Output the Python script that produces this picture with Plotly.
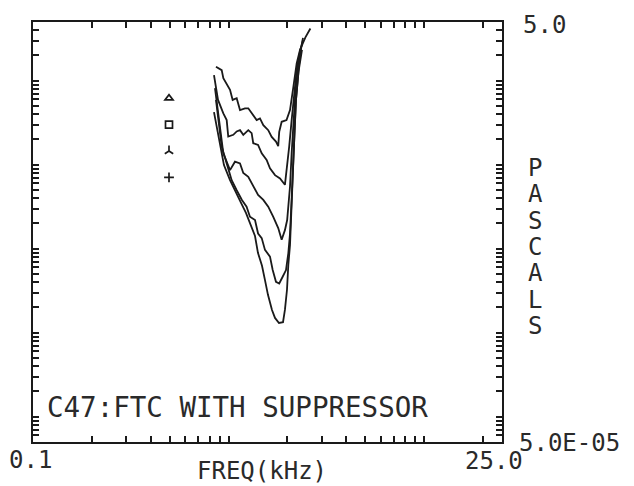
import numpy as np
import plotly.graph_objects as go

# Frequency tuning curves (kHz) with threshold levels in dB SPL (re 20 uPa)
freq_a = [0.862, 0.922, 0.940, 1.017, 1.049, 1.100, 1.144, 1.213, 1.261, 1.312, 1.392, 1.447,
          1.505, 1.595, 1.661, 1.747, 1.794, 1.815, 1.868, 1.978, 2.061, 2.145, 2.229, 2.317,
          2.470, 2.620]
db_a = [97.3, 96.5, 94.6, 91.8, 89.4, 89.8, 87.0, 87.4, 87.4, 86.2, 84.6, 85.0,
        83.4, 82.2, 80.6, 79.5, 78.4, 81.8, 84.2, 84.6, 87.0, 92.6, 98.1, 101.3,
        104.3, 106.4]

freq_b = [0.842, 0.883, 0.940, 0.978, 0.996, 1.057, 1.100, 1.144, 1.189, 1.261, 1.312, 1.337,
          1.415, 1.477, 1.565, 1.628, 1.727, 1.832, 1.941, 1.993, 2.041, 2.101, 2.160, 2.229,
          2.317, 2.400]
db_b = [95.3, 89.4, 86.2, 84.6, 80.7, 81.1, 81.9, 82.2, 81.1, 82.2, 81.5, 79.1,
        78.7, 76.7, 75.1, 73.1, 71.5, 70.7, 69.2, 73.5, 78.3, 84.6, 91.0, 96.5,
        100.9, 103.7]

freq_c = [0.852, 0.897, 0.922, 0.940, 1.017, 1.078, 1.144, 1.189, 1.261, 1.337, 1.415, 1.505,
          1.595, 1.690, 1.794, 1.868, 1.941, 1.993, 2.061, 2.101, 2.150, 2.200, 2.264, 2.345]
db_c = [92.2, 84.6, 80.7, 76.7, 72.7, 74.7, 74.3, 72.0, 71.1, 68.8, 66.8, 65.6,
        64.0, 61.6, 58.9, 56.1, 58.4, 60.8, 68.8, 76.7, 84.6, 91.8, 97.7, 102.0]

freq_d = [0.862, 0.922, 0.978, 1.037, 1.100, 1.170, 1.236, 1.286, 1.365, 1.415, 1.477, 1.535,
          1.628, 1.681, 1.747, 1.815, 1.890, 1.966, 2.020, 2.061, 2.100, 2.135, 2.175, 2.211,
          2.277, 2.373]
db_d = [89.4, 78.3, 74.3, 70.3, 67.9, 65.6, 64.0, 61.6, 60.8, 57.6, 56.5, 53.7,
        52.1, 48.9, 46.1, 45.7, 47.3, 48.9, 52.9, 57.6, 65.6, 73.9, 82.2, 89.4,
        96.1, 101.3]

freq_e = [0.842, 0.894, 0.947, 1.017, 1.091, 1.158, 1.227, 1.301, 1.365, 1.413, 1.482, 1.535,
          1.590, 1.667, 1.727, 1.810, 1.898, 1.941, 1.989, 2.020, 2.061, 2.085, 2.110, 2.135,
          2.175, 2.211, 2.264, 2.317, 2.400]
db_e = [86.5, 79.9, 73.9, 70.3, 67.2, 64.9, 62.5, 59.4, 57.0, 53.0, 49.9, 46.5,
        43.0, 39.4, 37.5, 36.3, 36.5, 39.4, 44.2, 50.1, 54.9, 60.8, 68.0, 75.1,
        82.2, 89.4, 95.3, 100.1, 104.2]

curves = [(freq_a, db_a), (freq_b, db_b), (freq_c, db_c), (freq_d, db_d), (freq_e, db_e)]

# Suppressor key symbols
key_symbols = ["triangle-up-open", "square-open", "y-up", "cross-thin-open"]

# Axis ranges and labels
x_min, x_max = 0.1, 25.0
y_min, y_max = 5.0e-05, 5.0
x_label_lo, x_label_hi, x_title = "0.1", "25.0", "FREQ(kHz)"
y_label_hi, y_label_lo, y_title = "5.0", "5.0E-05", "PASCALS"
caption = "C47:FTC WITH SUPPRESSOR"

P_REF = 20e-6  # Pa


def to_pascal(db):
    return P_REF * 10 ** (np.asarray(db) / 20.0)


INK = "#1a1a1a"
TEXT_INK = "#2a2a2a"
FONT = "DejaVu Sans Mono"

fig = go.Figure()
for fq, db in curves:
    fig.add_trace(go.Scatter(
        x=fq, y=to_pascal(db), mode="lines",
        line=dict(color=INK, width=1.8), showlegend=False, hoverinfo="skip"))

for sym in key_symbols:
    fig.add_trace(go.Scatter(
        x=[None], y=[None], mode="markers", name="",
        marker=dict(symbol=sym, size=7, color=INK, line=dict(color=INK, width=1.7)),
        showlegend=True))

x_ticks = [m * 10 ** e for e in (-1, 0, 1) for m in range(1, 10)
           if x_min < m * 10 ** e < x_max]
y_ticks = [m * 10 ** e for e in range(-5, 1) for m in range(1, 10)
           if y_min < m * 10 ** e < y_max]

axis_common = dict(
    type="log", showgrid=False, zeroline=False, showticklabels=False,
    showline=True, mirror="ticks", linecolor=INK, linewidth=2,
    ticks="inside", ticklen=6, tickwidth=1.5, tickcolor=INK,
)
fig.update_xaxes(range=[np.log10(x_min), np.log10(x_max)], tickvals=x_ticks, **axis_common)
fig.update_yaxes(range=[np.log10(y_min), np.log10(y_max)], tickvals=y_ticks, **axis_common)

L, R, T, B = 33, 132, 22, 44
W, H = 634, 486
PW, PH = W - L - R, H - T - B


def px(xp):
    return (xp - L) / PW


def py(yp):
    return (H - B - yp) / PH


annotations = []


def label(text, xp, yp, size=24, xanchor="center"):
    annotations.append(dict(
        text=text, x=px(xp), y=py(yp), xref="paper", yref="paper",
        xanchor=xanchor, yanchor="middle", showarrow=False,
        font=dict(family=FONT, size=size, color=TEXT_INK)))


label(x_label_lo, 30, 460)
label(x_title, 262, 471)
label(x_label_hi, 494, 461)
label(y_label_hi, 544, 25)
label(y_label_lo, 517, 443, xanchor="left")
for i, ch in enumerate(y_title):
    label(ch, 535, 168 + i * 26.3)
label(caption, 45, 407, size=27.5, xanchor="left")

fig.update_layout(
    width=W, height=H,
    margin=dict(l=L, r=R, t=T, b=B),
    paper_bgcolor="white", plot_bgcolor="white",
    annotations=annotations,
    legend=dict(
        x=px(149), y=py(80), xanchor="left", yanchor="top",
        bgcolor="rgba(0,0,0,0)", borderwidth=0,
        font=dict(family=FONT, size=18, color=INK),
        itemwidth=30, tracegroupgap=0,
    ),
)

fig.write_html("out.html")
